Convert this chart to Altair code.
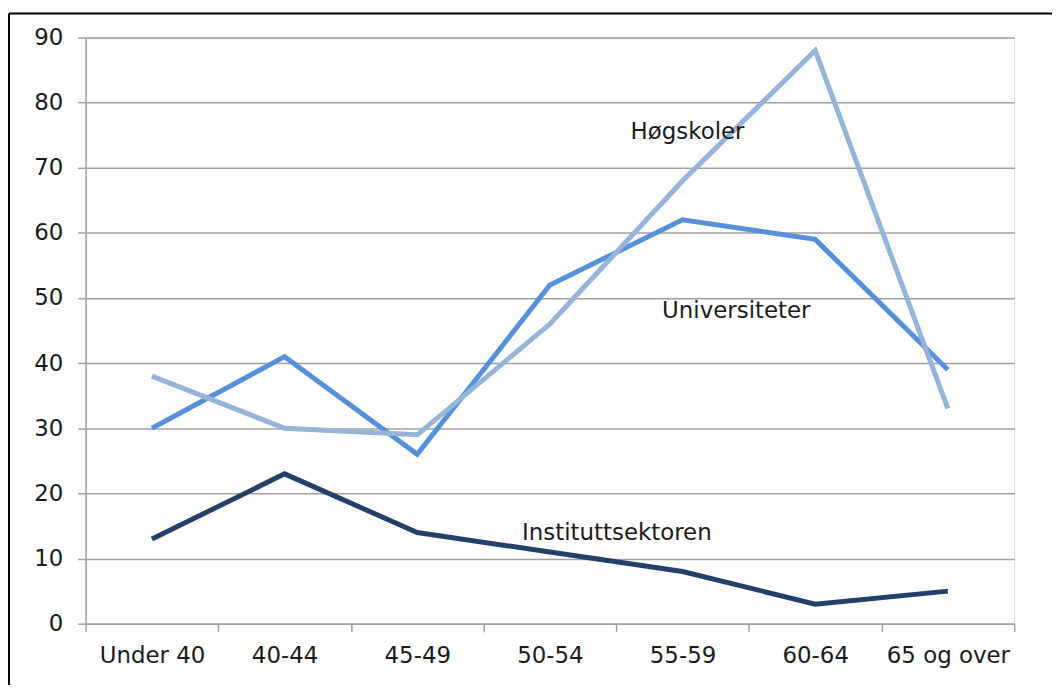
import altair as alt
import pandas as pd

categories = ["Under 40", "40-44", "45-49", "50-54", "55-59", "60-64", "65 og over"]
hogskoler = [38, 30, 29, 46, 68, 88, 33]
universiteter = [30, 41, 26, 52, 62, 59, 39]
institutt = [13, 23, 14, 11, 8, 3, 5]

series_names = ["Instituttsektoren", "Universiteter", "Høgskoler"]
series_values = [institutt, universiteter, hogskoler]
series_colors = ["#22406A", "#5590D9", "#95B4DA"]

# annotation labels (name, anchor category, value)
label_names = ["Høgskoler", "Universiteter", "Instituttsektoren"]
label_cats = ["55-59", "55-59", "55-59"]
label_vals = [74.4, 46.9, 12.8]
label_dx = [5, 54, -66]

FONT = "DejaVu Sans"
GRID = "#a0a0a0"
FS = 23

x_enc = alt.X(
    "cat:O",
    sort=categories,
    scale=alt.Scale(type="band", domain=categories, paddingInner=0, paddingOuter=0),
    bandPosition=0.5,
    axis=alt.Axis(
        title=None, tickBand="extent", labelAngle=0, labelFont=FONT, labelFontSize=FS,
        labelColor="#1a1a1a", labelPadding=13, tickSize=8, tickColor=GRID, tickWidth=1.5,
        domainColor=GRID, domainWidth=1.5, grid=False,
    ),
)
y_enc = alt.Y(
    "val:Q",
    scale=alt.Scale(domain=[0, 90], nice=False),
    axis=alt.Axis(
        title=None, values=list(range(0, 91, 10)), labelFont=FONT, labelFontSize=FS,
        labelColor="#1a1a1a", labelPadding=15, tickSize=8, tickColor=GRID, tickWidth=1.5,
        domainColor=GRID, domainWidth=1.5, grid=True, gridColor=GRID, gridWidth=1.5,
    ),
)

layers = []
for name, vals, col in zip(series_names, series_values, series_colors):
    df = pd.DataFrame({"cat": categories, "val": vals, "series": name})
    layers.append(
        alt.Chart(df).mark_line(color=col, strokeWidth=5, strokeJoin="miter").encode(x=x_enc, y=y_enc)
    )

for name, cat, val, dx in zip(label_names, label_cats, label_vals, label_dx):
    ldf = pd.DataFrame({"cat": [cat], "val": [val], "txt": [name]})
    layers.append(
        alt.Chart(ldf).mark_text(
            font=FONT, fontSize=FS, color="#1a1a1a", align="center", baseline="alphabetic", dx=dx
        ).encode(x=x_enc, y=y_enc, text="txt:N")
    )

frame_df = pd.DataFrame({"k": [0]})
frame_v = alt.Chart(frame_df).mark_rule(color="black", strokeWidth=2).encode(
    x=alt.value(-77), y=alt.value(-24), y2=alt.value(700)
)
frame_h = alt.Chart(frame_df).mark_rule(color="black", strokeWidth=2).encode(
    x=alt.value(-77), x2=alt.value(1000), y=alt.value(-24)
)
layers += [frame_v, frame_h]

chart = alt.layer(*layers).properties(
    width=933,
    height=589,
    autosize=alt.AutoSizeParams(type="none"),
    padding={"left": 78, "top": 28, "right": 38, "bottom": 60},
).configure_view(stroke=GRID, strokeWidth=1.5).configure(background="white")

chart.save("out.html", embed_options={"renderer": "svg", "actions": False})
